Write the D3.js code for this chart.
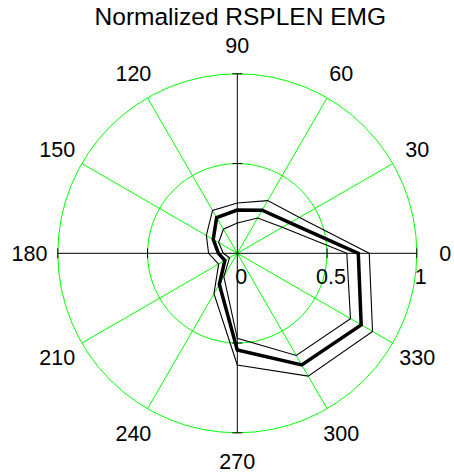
<!DOCTYPE html>
<html lang="en">
<head>
<meta charset="UTF-8">
<title>Normalized RSPLEN EMG</title>
<style>
body { margin: 0; background: #fff; }
text { font-family: "Liberation Sans", Arial, sans-serif; fill: #000; }
.grid { fill: none; stroke: #00ff00; stroke-width: 1px; }
.axis { stroke: #000; stroke-width: 1px; }
.mean { fill: none; stroke: #000; stroke-width: 3.5px; stroke-linejoin: miter; }
.band { fill: none; stroke: #000; stroke-width: 1.1px; }
</style>
</head>
<body>
<script src="https://cdn.jsdelivr.net/npm/d3@7"></script>
<script>
// data: angles in degrees, radii normalized 0..1
var angles = [0, 30, 60, 90, 120, 150, 180, 210, 240, 270, 300, 330];
var meanR  = [0.674, 0.34, 0.277, 0.241, 0.23, 0.155, 0.105, 0.08, 0.20, 0.539, 0.718, 0.797];
var upperR = [0.735, 0.40, 0.339, 0.28, 0.276, 0.199, 0.16, 0.12, 0.26, 0.622, 0.79, 0.87];
var lowerR = [0.61, 0.289, 0.227, 0.169, 0.155, 0.12, 0.078, 0.05, 0.15, 0.474, 0.657, 0.728];

var angleTicks = [0, 30, 60, 90, 120, 150, 180, 210, 240, 270, 300, 330];
var spokeAngles = [30, 60, 120, 150];
var axisAngles = [0, 90];
var ringTicks = [0.5, 1];
var radialLabels = [0, 0.5, 1];

var width = 454, height = 476;
var cx = 237.3, cy = 253.3, R = 179.5;

var r = d3.scaleLinear().domain([0, 1]).range([0, R]);
var rad = function(deg) { return deg * Math.PI / 180; };

var svg = d3.select("body").append("svg")
    .attr("width", width)
    .attr("height", height);

svg.append("rect").attr("width", width).attr("height", height).attr("fill", "#fff");

var g = svg.append("g")
    .attr("transform", "translate(" + cx + "," + cy + ")");

// rings
g.selectAll(".ring").data(ringTicks).enter().append("circle")
    .attr("class", "grid")
    .attr("r", function(d) { return r(d); });

// green spokes (full diameters)
g.selectAll(".spoke").data(spokeAngles).enter().append("line")
    .attr("class", "grid")
    .attr("x1", function(d) { return -r(1) * Math.cos(rad(d)); })
    .attr("y1", function(d) { return r(1) * Math.sin(rad(d)); })
    .attr("x2", function(d) { return r(1) * Math.cos(rad(d)); })
    .attr("y2", function(d) { return -r(1) * Math.sin(rad(d)); });

// black axes through the centre
g.selectAll(".axisline").data(axisAngles).enter().append("line")
    .attr("class", "axis")
    .attr("x1", function(d) { return -r(1) * Math.cos(rad(d)); })
    .attr("y1", function(d) { return r(1) * Math.sin(rad(d)); })
    .attr("x2", function(d) { return r(1) * Math.cos(rad(d)); })
    .attr("y2", function(d) { return -r(1) * Math.sin(rad(d)); });

// small ticks where the axes cross the rings
var tickLen = 5;
[0, 90, 180, 270].forEach(function(a) {
    var c = Math.cos(rad(a)), s = -Math.sin(rad(a));
    ringTicks.forEach(function(t) {
        var px = r(t) * c, py = r(t) * s;
        g.append("line").attr("class", "axis")
            .attr("x1", px - tickLen * s).attr("y1", py + tickLen * c)
            .attr("x2", px + tickLen * s).attr("y2", py - tickLen * c);
    });
});

// angle labels
g.selectAll(".alabel").data(angleTicks).enter().append("text")
    .attr("x", function(d) { return r(1.158) * Math.cos(rad(d)); })
    .attr("y", function(d) { return -r(1.158) * Math.sin(rad(d)); })
    .attr("dy", "0.35em")
    .attr("text-anchor", "middle")
    .style("font-size", "21.5px")
    .text(function(d) { return d; });

// radial labels
g.selectAll(".rlabel").data(radialLabels).enter().append("text")
    .attr("x", function(d) { return r(d) + 4; })
    .attr("y", 31)
    .attr("text-anchor", "middle")
    .style("font-size", "21.5px")
    .text(function(d) { return d; });

// data curves
var radial = d3.lineRadial()
    .angle(function(d) { return Math.PI / 2 - rad(d[0]); })
    .radius(function(d) { return r(d[1]); })
    .curve(d3.curveLinearClosed);

function pairs(vals) { return angles.map(function(a, i) { return [a, vals[i]]; }); }

g.append("path").attr("class", "band").attr("d", radial(pairs(upperR)));
g.append("path").attr("class", "band").attr("d", radial(pairs(lowerR)));
g.append("path").attr("class", "mean").attr("d", radial(pairs(meanR)));

// title
svg.append("text")
    .attr("x", 240.3)
    .attr("y", 25)
    .attr("text-anchor", "middle")
    .style("font-size", "24.5px")
    .text("Normalized RSPLEN EMG");
</script>
</body>
</html>
